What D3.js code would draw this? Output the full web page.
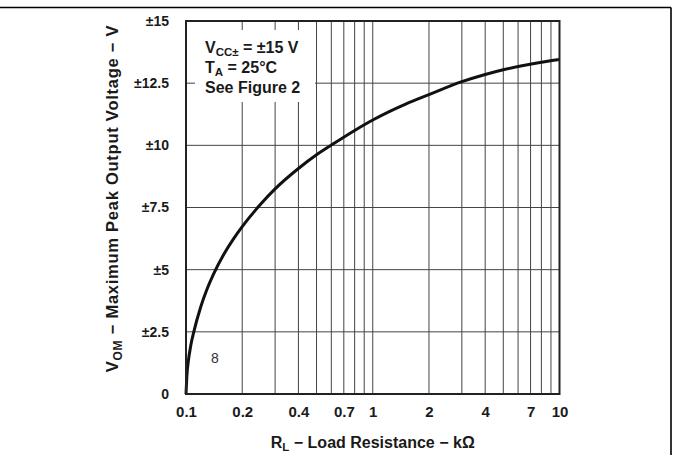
<!DOCTYPE html>
<html>
<head>
<meta charset="utf-8">
<script src="https://cdn.jsdelivr.net/npm/d3@7/dist/d3.min.js"></script>
<style>
  html, body { margin: 0; padding: 0; background: #fff; }
  svg { display: block; font-family: "Liberation Sans", Arial, Helvetica, sans-serif; }
</style>
</head>
<body>
<svg id="chart" width="673" height="455"></svg>
<script>
// ---- data ----
const loadResistance = [0.1, 0.101, 0.103, 0.106, 0.11, 0.12, 0.13, 0.14, 0.16, 0.18, 0.2, 0.25, 0.3, 0.4, 0.5, 0.6, 0.8, 1, 1.5, 2, 3, 4, 5, 6.3, 8, 10];
const peakVoltage   = [0, 0.69, 1.34, 1.94, 2.49, 3.51, 4.24, 4.8, 5.64, 6.25, 6.73, 7.62, 8.25, 9.07, 9.62, 10.01, 10.6, 11.02, 11.66, 12.04, 12.56, 12.85, 13.04, 13.2, 13.34, 13.45];
const xTickValues = [0.1, 0.2, 0.4, 0.7, 1, 2, 4, 7, 10];
const xTickLabels = ["0.1", "0.2", "0.4", "0.7", "1", "2", "4", "7", "10"];
const xGridValues = [0.2, 0.3, 0.4, 0.5, 0.6, 0.7, 0.8, 0.9, 1, 2, 3, 4, 5, 6, 7, 8, 9];
const yTickValues = [0, 2.5, 5, 7.5, 10, 12.5, 15];
const yTickLabels = ["0", "±2.5", "±5", "±7.5", "±10", "±12.5", "±15"];

// ---- layout ----
const svg = d3.select("#chart");
const pL = 186, pR = 559.5, pT = 21, pB = 394;
const x = d3.scaleLog().domain([0.1, 10]).range([pL, pR]);
const y = d3.scaleLinear().domain([0, 15]).range([pB, pT]);
const ink = "#1a1a1a";

// page frame lines
svg.append("line").attr("x1", 0).attr("x2", 671).attr("y1", 7.5).attr("y2", 7.5)
  .attr("stroke", "#000").attr("stroke-width", 1.6);
svg.append("line").attr("x1", 671).attr("x2", 671).attr("y1", 7.5).attr("y2", 455)
  .attr("stroke", "#000").attr("stroke-width", 1.6);

// grid
const grid = svg.append("g").attr("stroke", "#444").attr("stroke-width", 1);
grid.selectAll("line.vx").data(xGridValues).enter().append("line")
  .attr("x1", d => x(d)).attr("x2", d => x(d)).attr("y1", pT).attr("y2", pB);
grid.selectAll("line.hy").data(yTickValues.slice(1, -1)).enter().append("line")
  .attr("x1", pL).attr("x2", pR).attr("y1", d => y(d)).attr("y2", d => y(d));

// legend box (white, interrupts grid)
svg.append("rect").attr("x", 195).attr("y", 30).attr("width", 120).attr("height", 72).attr("fill", "#fff");
const leg = svg.append("g").attr("font-weight", "bold").attr("font-size", 16).attr("fill", ink);
const l1 = leg.append("text").attr("x", 205).attr("y", 53);
l1.append("tspan").text("V");
l1.append("tspan").attr("font-size", 11.5).attr("dy", 3).text("CC±");
l1.append("tspan").attr("dy", -3).text(" = ±15 V");
const l2 = leg.append("text").attr("x", 205).attr("y", 73);
l2.append("tspan").text("T");
l2.append("tspan").attr("font-size", 11.5).attr("dy", 3).text("A");
l2.append("tspan").attr("dy", -3).text(" = 25°C");
leg.append("text").attr("x", 205).attr("y", 93).text("See Figure 2");

// curve
const line = d3.line().x(d => x(d[0])).y(d => y(d[1])).curve(d3.curveMonotoneX);
svg.append("path").datum(d3.zip(loadResistance, peakVoltage))
  .attr("d", line).attr("fill", "none").attr("stroke", "#111").attr("stroke-width", 3)
  .attr("stroke-linejoin", "round");

// plot frame
svg.append("rect").attr("x", pL).attr("y", pT).attr("width", pR - pL).attr("height", pB - pT)
  .attr("fill", "none").attr("stroke", "#222").attr("stroke-width", 2);

// axes
const xAxis = d3.axisBottom(x).tickValues(xTickValues).tickSize(0).tickPadding(0)
  .tickFormat((d, i) => xTickLabels[i]);
const gx = svg.append("g").attr("transform", `translate(0,${pB})`).call(xAxis);
gx.select(".domain").remove();
gx.selectAll("text").attr("dy", null).attr("y", 22.5).attr("font-size", 15).attr("font-weight", "bold")
  .attr("fill", ink).attr("font-family", "Liberation Sans, Arial, sans-serif");

const yAxis = d3.axisLeft(y).tickValues(yTickValues).tickSize(0).tickPadding(0)
  .tickFormat((d, i) => yTickLabels[i]);
const gy = svg.append("g").attr("transform", `translate(${pL},0)`).call(yAxis);
gy.select(".domain").remove();
gy.selectAll("text").attr("x", -17).attr("font-size", 14).attr("font-weight", "bold")
  .attr("fill", ink).attr("font-family", "Liberation Sans, Arial, sans-serif");

// axis titles
const xt = svg.append("text").attr("x", (pL + pR) / 2).attr("y", 448).attr("text-anchor", "middle")
  .attr("font-size", 16).attr("font-weight", "bold").attr("fill", ink);
xt.append("tspan").text("R");
xt.append("tspan").attr("font-size", 11.5).attr("dy", 3).text("L");
xt.append("tspan").attr("dy", -3).text(" − Load Resistance − kΩ");

const yt = svg.append("text").attr("transform", "translate(118,198.5) rotate(-90)").attr("text-anchor", "middle")
  .attr("font-size", 16.5).attr("font-weight", "bold").attr("fill", ink).attr("letter-spacing", 0.75);
yt.append("tspan").text("V");
yt.append("tspan").attr("font-size", 12).attr("dy", 3.5).text("OM");
yt.append("tspan").attr("dy", -3.5).text(" − Maximum Peak Output Voltage − V");

// small figure mark
svg.append("text").attr("x", 215).attr("y", 363).attr("text-anchor", "middle")
  .attr("font-size", 14).attr("fill", "#333").text("8");
</script>
</body>
</html>
